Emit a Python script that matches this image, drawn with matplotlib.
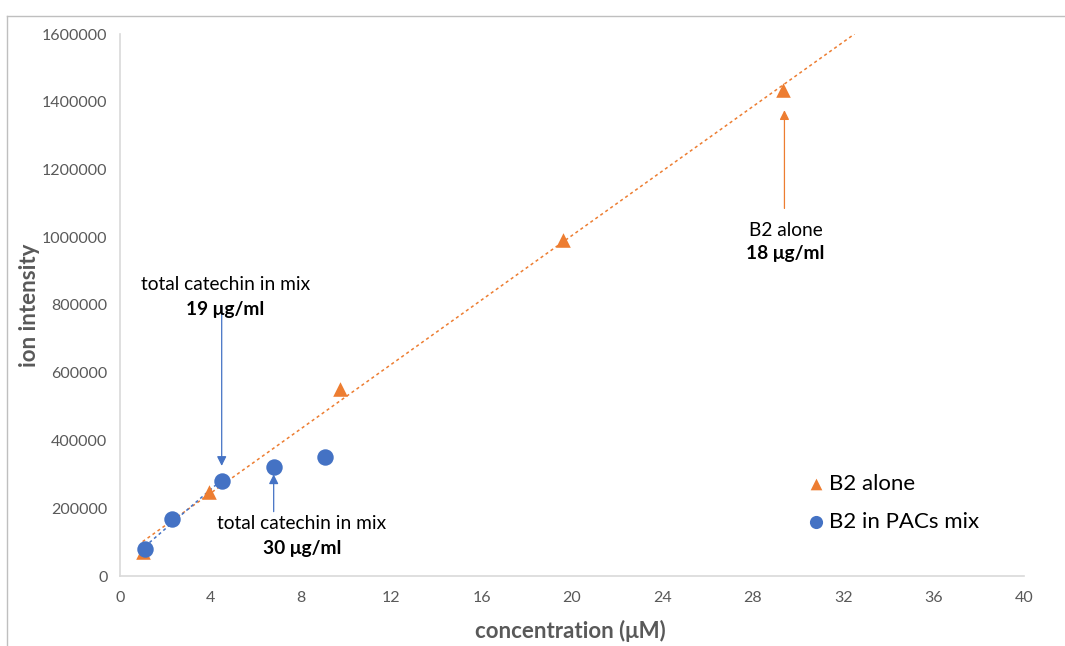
import numpy as np
import matplotlib
matplotlib.use("Agg")
import matplotlib.pyplot as plt
from matplotlib.lines import Line2D

plt.rcParams['font.family'] = ['Lato', 'DejaVu Sans']

# Data
b2_alone_x = [1.0, 3.95, 9.75, 19.6, 29.35]
b2_alone_y = [70000, 248000, 552000, 992000, 1435000]
b2_mix_x = [1.1, 2.3, 4.5, 6.8, 9.05]
b2_mix_y = [80000, 167000, 280000, 322000, 351000]

x_ticks = list(range(0, 41, 4))
y_ticks = list(range(0, 1600001, 200000))

orange = '#ED7D31'
blue = '#4472C4'
gray_txt = '#595959'

fig = plt.figure(figsize=(10.65, 6.46), dpi=100)
ax = fig.add_axes([120/1065, 1-576/646, 904/1065, (576-34)/646])

# Figure border (chart area outline)
fig.add_artist(Line2D([7/1065, 1.0], [1-16/646, 1-16/646], color='#BFBFBF', lw=1.0, transform=fig.transFigure))
fig.add_artist(Line2D([7/1065, 7/1065], [0.0, 1-16/646], color='#BFBFBF', lw=1.0, transform=fig.transFigure))

# Trendlines
p1 = np.polyfit(b2_alone_x, b2_alone_y, 1)
xt = np.linspace(min(b2_alone_x), (1600000 - p1[1]) / p1[0], 200)
ax.plot(xt, np.polyval(p1, xt), color=orange, lw=1.1, ls=(0, (2, 2)), zorder=2)
p2 = np.polyfit(b2_mix_x[:3], b2_mix_y[:3], 1)
xt2 = np.linspace(b2_mix_x[0], b2_mix_x[2] - 0.2, 50)
ax.plot(xt2, np.polyval(p2, xt2), color=blue, lw=1.1, ls=(0, (2, 2)), zorder=2)

ax.scatter(b2_alone_x, b2_alone_y, marker='^', s=110, color=orange, zorder=3, label='B2 alone', linewidths=0)
ax.scatter(b2_mix_x, b2_mix_y, marker='o', s=140, color=blue, zorder=4, label='B2 in PACs mix', linewidths=0)

ax.set_xlim(0, 40)
ax.set_ylim(0, 1600000)
ax.set_xticks(x_ticks)
ax.set_yticks(y_ticks)
ax.set_xticklabels([str(v) for v in x_ticks])
ax.set_yticklabels([str(v) for v in y_ticks])
ax.tick_params(length=0, labelsize=11.5, colors=gray_txt)
ax.tick_params(axis='x', pad=11)
ax.tick_params(axis='y', pad=9)
for s in ['top', 'right']:
    ax.spines[s].set_visible(False)
for s in ['left', 'bottom']:
    ax.spines[s].set_color('#D9D9D9')
    ax.spines[s].set_linewidth(1.2)

ax.set_xlabel('concentration (μM)', fontsize=16, fontweight='bold', color=gray_txt)
ax.set_ylabel('ion intensity', fontsize=16, fontweight='bold', color=gray_txt)
ax.xaxis.set_label_coords((570 - 120) / 904, (576 - 620) / 542)
ax.yaxis.set_label_coords((40 - 120) / 904, 0.5)

# Annotations
tfs = 13.8
ann_kw = dict(arrowprops=dict(arrowstyle='-|>', color=blue, lw=0.9, mutation_scale=14, shrinkA=0, shrinkB=0))
ax.annotate('', xy=(4.5, 325000), xytext=(4.5, 795000), **ann_kw)
ax.text(4.65, 860000, 'total catechin in mix', ha='center', va='center', fontsize=tfs, color='black')
ax.text(4.65, 786000, '19 μg/ml', ha='center', va='center', fontsize=tfs, fontweight='bold', color='black')

ax.annotate('', xy=(6.8, 300000), xytext=(6.8, 190000), **ann_kw)
ax.text(8.05, 155000, 'total catechin in mix', ha='center', va='center', fontsize=tfs, color='black')
ax.text(8.05, 82000, '30 μg/ml', ha='center', va='center', fontsize=tfs, fontweight='bold', color='black')

ax.annotate('', xy=(29.4, 1375000), xytext=(29.4, 1085000),
            arrowprops=dict(arrowstyle='-|>', color=orange, lw=0.9, mutation_scale=14, shrinkA=0, shrinkB=0))
ax.text(29.45, 1020000, 'B2 alone', ha='center', va='center', fontsize=tfs, color='black')
ax.text(29.45, 951000, '18 μg/ml', ha='center', va='center', fontsize=tfs, fontweight='bold', color='black')

leg = ax.legend(loc='lower left', bbox_to_anchor=(0.745, 0.065), frameon=False, fontsize=16,
                handletextpad=0.0, handlelength=1.2, labelspacing=0.8, markerscale=0.8, borderaxespad=0)

fig.savefig('out.png', dpi=100)
